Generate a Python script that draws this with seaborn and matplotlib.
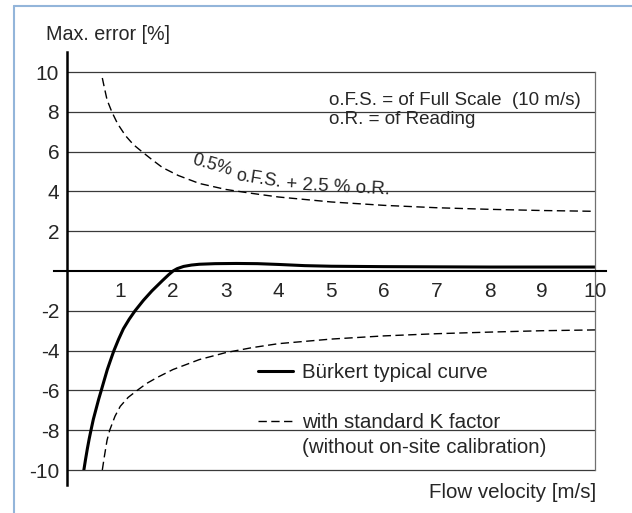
import pandas as pd
import matplotlib.pyplot as plt
import seaborn as sns
from matplotlib.lines import Line2D

# values (flow velocity [m/s] -> max. error [%])
typ_v = [0.31, 0.34, 0.375, 0.41, 0.445, 0.49, 0.54, 0.59, 0.64, 0.7, 0.755, 0.82, 0.88,
         0.97, 1.06, 1.17, 1.28, 1.44, 1.6, 1.8, 1.92, 2.0, 2.08, 2.2, 2.35, 2.5, 2.8,
         3.2, 3.6, 4.0, 4.5, 5.0, 6.0, 7.0, 8.0, 9.0, 10.0]
typ_err = [-10.0, -9.5, -8.95, -8.45, -8.0, -7.45, -6.95, -6.45, -6.0, -5.45, -4.95, -4.45,
           -4.0, -3.42, -2.9, -2.42, -2.0, -1.47, -1.0, -0.48, -0.18, 0.0, 0.12, 0.23,
           0.3, 0.34, 0.37, 0.38, 0.37, 0.33, 0.27, 0.24, 0.22, 0.21, 0.2, 0.2, 0.2]

upper_v = [0.66, 0.7, 0.75, 0.84, 0.95, 1.1, 1.25, 1.41, 1.6, 1.8, 2.1, 2.5, 3.0, 3.5, 4.0,
           5.0, 6.0, 7.0, 8.0, 9.0, 10.0]
upper_err = [9.7, 9.2, 8.6, 8.0, 7.4, 6.8, 6.35, 6.0, 5.6, 5.2, 4.8, 4.4, 4.1, 3.9, 3.72,
             3.47, 3.3, 3.18, 3.1, 3.04, 3.0]

lower_v = [0.66, 0.7, 0.75, 0.8, 0.9, 1.0, 1.15, 1.32, 1.5, 1.7, 2.0, 2.5, 3.0, 3.5, 4.0,
           5.0, 6.0, 7.0, 8.0, 9.0, 10.0]
lower_err = [-10.0, -9.3, -8.5, -8.0, -7.3, -6.8, -6.35, -6.0, -5.65, -5.35, -4.95, -4.45,
             -4.1, -3.85, -3.65, -3.42, -3.26, -3.15, -3.07, -3.0, -2.96]

x_ticks = [1, 2, 3, 4, 5, 6, 7, 8, 9, 10]
y_ticks = [-10, -8, -6, -4, -2, 2, 4, 6, 8, 10]

sns.set_style("white")
plt.rcParams['font.family'] = ['Liberation Sans', 'DejaVu Sans']
plt.rcParams['axes.unicode_minus'] = False

fig = plt.figure(figsize=(6.32, 5.13), dpi=100)
ax = fig.add_axes([0.1068, 0.0838, 0.9415 - 0.1068, 0.8596 - 0.0838])

typ = pd.DataFrame({'v': typ_v, 'err': typ_err})
upper = pd.DataFrame({'v': upper_v, 'err': upper_err})
lower = pd.DataFrame({'v': lower_v, 'err': lower_err})

dash = (0, (6, 3.2))
sns.lineplot(data=typ, x='v', y='err', ax=ax, color='black', lw=2.2, sort=False)
sns.lineplot(data=upper, x='v', y='err', ax=ax, color='black', lw=1.0, linestyle=dash, sort=False)
sns.lineplot(data=lower, x='v', y='err', ax=ax, color='black', lw=1.0, linestyle=dash, sort=False)

ax.set_xlim(0, 10)
ax.set_ylim(-10, 10)
ax.set_xlabel('')
ax.set_ylabel('')

# grid & frame
for y in y_ticks:
    ax.axhline(y, color='#3a3a3a', lw=0.9, zorder=0, clip_on=False)
ax.spines['top'].set_visible(False)
ax.spines['right'].set_color('#707070')
ax.spines['right'].set_linewidth(0.9)
ax.spines['left'].set_color('black')
ax.spines['left'].set_linewidth(1.8)
ax.spines['left'].set_bounds(-10.75, 11.0)
ax.spines['bottom'].set_position(('data', 0))
ax.spines['bottom'].set_color('black')
ax.spines['bottom'].set_linewidth(1.5)
ax.spines['bottom'].set_bounds(-0.25, 10.2)

ax.set_xticks(x_ticks)
ax.set_xticklabels([str(t) for t in x_ticks])
ax.set_yticks(y_ticks)
ax.set_yticklabels([str(t) for t in y_ticks])
ax.tick_params(axis='x', direction='inout', length=6, width=1, color='black',
               labelsize=15, pad=5)
ax.tick_params(axis='y', length=0, labelsize=15, pad=6)

# notes
ax.text(4.95, 8.55, 'o.F.S. = of Full Scale  (10 m/s)', fontsize=13.5, va='center', ha='left')
ax.text(4.95, 7.6, 'o.R. = of Reading', fontsize=13.5, va='center', ha='left')
ax.text(2.74, 5.3, '0.5%', fontsize=13, rotation=-16, ha='center', va='center')
ax.text(3.62, 4.62, 'o.F.S.', fontsize=13, rotation=-9, ha='center', va='center')
ax.text(5.13, 4.2, '+ 2.5 % o.R.', fontsize=13.5, rotation=-3, ha='center', va='center')

# legend
handles = [Line2D([], [], color='black', lw=2.2),
           Line2D([], [], color='black', lw=1.0, linestyle=dash)]
leg = ax.legend(handles, ['Bürkert typical curve', 'with standard K factor'],
                loc='upper left', bbox_to_anchor=(0.345, 0.289), frameon=False,
                fontsize=14.8, handlelength=1.7, handletextpad=0.44, labelspacing=1.52,
                borderaxespad=0)
ax.text(4.45, -8.85, '(without on-site calibration)', fontsize=14.8, va='center', ha='left')

fig.text(46 / 632, 1 - 34.5 / 513, 'Max. error [%]', fontsize=14.2, va='center', ha='left')
fig.text(596 / 632, 1 - 493 / 513, 'Flow velocity [m/s]', fontsize=14.8, va='center', ha='right')

# light blue frame around the figure
fig.add_artist(Line2D([14 / 632, 1], [1 - 6 / 513, 1 - 6 / 513], color='#93b5da', lw=1.5))
fig.add_artist(Line2D([14 / 632, 14 / 632], [0, 1 - 6 / 513], color='#93b5da', lw=1.5))

fig.savefig('out.png', dpi=100)
